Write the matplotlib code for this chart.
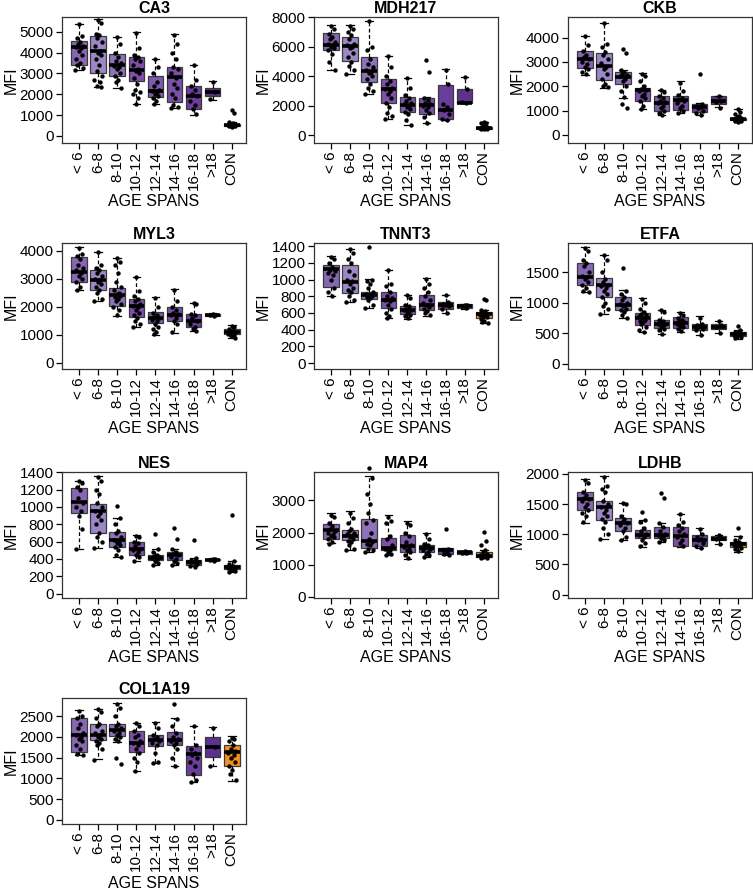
"""Grid of MFI boxplots per age span for ten markers."""

import matplotlib
matplotlib.use("Agg")
import matplotlib.pyplot as plt
import numpy as np

plt.rcParams["font.family"] = ["Liberation Sans", "DejaVu Sans"]

GROUPS = ["< 6", "6-8", "8-10", "10-12", "12-14", "14-16", "16-18", ">18", "CON"]
COLORS = ["#8767b4", "#9d87c6", "#8d71b9", "#7e50a9", "#7d5bab",
          "#7a50a7", "#6b3d9c", "#5e3090", "#f5901e"]

# box stats per group: (whisker low, q1, median, q3, whisker high)
CA3_BOX = [(3145, 3420, 4275, 4550, 5390), (2340, 3015, 4100, 4820, 5600),
           (2290, 2855, 3390, 3935, 4760), (1530, 2660, 3180, 3775, 5000),
           (1530, 1890, 2180, 2855, 3710), (1320, 1610, 2820, 3290, 4900),
           (1000, 1290, 1935, 2400, 3420), (1725, 1920, 2130, 2320, 2660),
           (450, 470, 515, 595, 680)]
CA3_PTS = [[5350, 4800, 4700, 4500, 4400, 4300, 4250, 4200, 4100, 3900, 3700, 3500, 3400, 3250, 3150],
           [5550, 5400, 4900, 4850, 4700, 4500, 4300, 4100, 4000, 3900, 3700, 3400, 3100, 2900, 2700, 2600, 2400, 2330],
           [4750, 4400, 4000, 3800, 3600, 3500, 3350, 3300, 3200, 3000, 2900, 2700, 2600, 2300],
           [4950, 4200, 3900, 3800, 3700, 3600, 3400, 3200, 3100, 3000, 2800, 2500, 2200, 2100, 2000, 1800, 1550],
           [3700, 3300, 3000, 2600, 2400, 2200, 2150, 2100, 2000, 1900, 1800, 1700, 1550],
           [4850, 4400, 4000, 3700, 3300, 3200, 3000, 2800, 2500, 2300, 2000, 1800, 1500, 1400, 1350],
           [3400, 2700, 2400, 2200, 2000, 1900, 1700, 1500, 1300, 1050],
           [2600, 2100, 1750],
           [1250, 1100, 650, 600, 560, 540, 520, 510, 500, 480, 470, 450]]
CA3_TICKS = [0, 1000, 2000, 3000, 4000, 5000]

MDH217_BOX = [(4420, 5770, 6150, 6940, 7460), (4125, 5025, 6040, 6670, 7460),
              (2770, 3605, 4350, 5320, 7775), (1080, 2165, 3110, 3785, 5365),
              (700, 1580, 2050, 2590, 3855), (810, 1465, 2030, 2545, 2600),
              (1035, 1125, 1715, 3380, 4460), (2165, 2165, 2210, 3155, 3965),
              (380, 420, 470, 540, 900)]
MDH217_PTS = [[7400, 7200, 6900, 6700, 6500, 6300, 6200, 6100, 6000, 5900, 5800, 5500, 5000, 4400],
              [7400, 7200, 7000, 6800, 6500, 6200, 6100, 6000, 5900, 5600, 5300, 5000, 4700, 4400, 4150],
              [7750, 6000, 5800, 5200, 4800, 4600, 4400, 4300, 4200, 4000, 3800, 3500, 3200, 3000, 2800],
              [5350, 4600, 4000, 3700, 3500, 3200, 3100, 3000, 2800, 2500, 2200, 1900, 1500, 1300, 1100],
              [3850, 3200, 2700, 2500, 2300, 2200, 2100, 2000, 1900, 1800, 1600, 1400, 1000, 700],
              [5100, 4300, 2550, 2400, 2200, 2100, 2000, 1900, 1700, 1500, 1200, 800],
              [4450, 3500, 2100, 1900, 1700, 1400, 1100, 1050],
              [3950, 3100, 2250, 2200],
              [900, 850, 800, 700, 600, 550, 500, 480, 460, 440, 420, 400]]
MDH217_TICKS = [0, 2000, 4000, 6000, 8000]

CKB_BOX = [(2475, 2745, 3130, 3440, 4080), (1940, 2260, 2840, 3345, 4615),
           (1525, 2100, 2395, 2595, 2665), (1070, 1405, 1860, 1925, 2530),
           (830, 990, 1325, 1605, 1860), (895, 1030, 1430, 1605, 2195),
           (830, 935, 1125, 1270, 1290), (1125, 1270, 1390, 1605, 1605),
           (540, 610, 660, 710, 1050)]
CKB_PTS = [[4050, 3700, 3450, 3300, 3200, 3100, 3000, 2900, 2800, 2700, 2600, 2500],
           [4600, 3750, 3600, 3400, 3300, 3100, 2950, 2800, 2700, 2500, 2300, 2100, 2000, 1950],
           [3550, 3350, 2650, 2600, 2500, 2450, 2400, 2300, 2200, 2000, 1800, 1550, 1250, 1100],
           [2500, 2400, 2200, 2000, 1900, 1850, 1800, 1700, 1600, 1500, 1400, 1200, 1080],
           [1850, 1750, 1600, 1500, 1400, 1350, 1300, 1200, 1100, 1000, 900, 830],
           [2150, 1800, 1650, 1500, 1450, 1400, 1300, 1200, 1100, 1000, 900],
           [2500, 1250, 1200, 1150, 1100, 1000, 900, 830],
           [1600, 1400, 1350, 1100],
           [1050, 950, 850, 780, 720, 680, 650, 630, 600, 580, 560, 540]]
CKB_TICKS = [0, 1000, 2000, 3000, 4000]

MYL3_BOX = [(2590, 2890, 3255, 3770, 4135), (2195, 2590, 2950, 3315, 3950),
            (1665, 2025, 2410, 2675, 3760), (1290, 1625, 2025, 2290, 3075),
            (1000, 1410, 1605, 1810, 2350), (1085, 1505, 1710, 1990, 2625),
            (1145, 1290, 1505, 1745, 2145), (1665, 1685, 1710, 1745, 1770),
            (880, 1025, 1120, 1205, 1350)]
MYL3_PTS = [[4100, 3900, 3800, 3700, 3500, 3400, 3300, 3200, 3100, 3000, 2900, 2700, 2600],
            [3950, 3500, 3400, 3300, 3200, 3100, 3000, 2950, 2900, 2800, 2700, 2600, 2500, 2300, 2200],
            [3750, 3600, 3500, 3200, 2900, 2700, 2600, 2500, 2450, 2400, 2350, 2300, 2200, 2100, 2000, 1900, 1700],
            [3050, 2550, 2400, 2300, 2200, 2100, 2050, 2000, 1900, 1800, 1700, 1600, 1500, 1400, 1300],
            [2330, 2000, 1800, 1700, 1650, 1600, 1550, 1500, 1400, 1300, 1200, 1100, 1020],
            [2600, 2200, 2000, 1900, 1800, 1750, 1700, 1600, 1500, 1400, 1100],
            [2150, 2100, 1750, 1700, 1600, 1500, 1400, 1300, 1200, 1150],
            [1760, 1720, 1700, 1680],
            [1330, 1280, 1200, 1150, 1120, 1100, 1050, 1000, 950, 900]]
MYL3_TICKS = [0, 1000, 2000, 3000, 4000]

TNNT3_BOX = [(798, 912, 1123, 1176, 1278), (729, 838, 973, 1176, 1368),
             (663, 769, 818, 851, 1001), (545, 655, 757, 847, 1111),
             (533, 586, 635, 684, 818), (562, 635, 696, 818, 1022),
             (594, 643, 696, 729, 818), (647, 655, 684, 704, 712),
             (475, 541, 586, 606, 640)]
TNNT3_PTS = [[1270, 1250, 1200, 1150, 1120, 1100, 1080, 1050, 1000, 900, 850, 800],
             [1360, 1320, 1250, 1200, 1100, 1050, 1000, 980, 950, 900, 870, 850, 800, 760, 730],
             [1390, 1000, 980, 950, 900, 850, 830, 820, 810, 800, 790, 780, 760, 700, 660],
             [1110, 950, 920, 850, 800, 780, 760, 740, 700, 650, 600, 560, 545],
             [820, 780, 700, 680, 650, 640, 630, 620, 600, 580, 560, 540],
             [1010, 950, 900, 850, 800, 750, 720, 700, 690, 670, 650, 620, 600, 570],
             [810, 730, 710, 700, 690, 680, 650, 600],
             [700, 690, 680, 660],
             [770, 750, 640, 620, 600, 590, 580, 570, 560, 550, 530, 510, 490, 475]]
TNNT3_TICKS = [0, 200, 400, 600, 800, 1000, 1200, 1400]

ETFA_BOX = [(1178, 1289, 1433, 1656, 1917), (822, 1094, 1294, 1406, 1789),
            (750, 889, 972, 1100, 1211), (528, 639, 750, 833, 1083),
            (483, 594, 656, 722, 889), (528, 594, 667, 767, 850),
            (472, 556, 611, 656, 778), (500, 567, 611, 656, 706),
            (417, 461, 490, 517, 560)]
ETFA_PTS = [[1900, 1850, 1700, 1650, 1600, 1500, 1450, 1420, 1400, 1350, 1300, 1250, 1200, 1180],
            [1780, 1700, 1500, 1400, 1350, 1300, 1280, 1250, 1200, 1150, 1100, 1000, 950, 900, 820],
            [1580, 1200, 1150, 1100, 1050, 1000, 980, 960, 950, 900, 880, 850, 800, 760],
            [1070, 1000, 900, 850, 820, 800, 780, 760, 750, 720, 700, 680, 650, 600, 550, 530],
            [880, 850, 720, 700, 680, 660, 650, 630, 600, 580, 550, 490],
            [840, 800, 750, 720, 700, 680, 660, 640, 620, 600, 580, 540],
            [760, 660, 640, 620, 600, 580, 560, 480],
            [700, 640, 600, 500],
            [630, 560, 520, 510, 500, 490, 480, 470, 460, 440, 420]]
ETFA_TICKS = [0, 500, 1000, 1500]

NES_BOX = [(520, 931, 1056, 1224, 1302), (528, 696, 950, 1036, 1357),
           (422, 536, 618, 716, 872), (371, 450, 520, 594, 676),
           (325, 383, 411, 450, 520), (325, 383, 442, 477, 520),
           (313, 325, 364, 391, 411), (379, 383, 391, 405, 411),
           (250, 285, 310, 330, 380)]
NES_PTS = [[1300, 1280, 1230, 1200, 1100, 1050, 1000, 950, 900, 750, 510],
           [1350, 1300, 1200, 1150, 1050, 1000, 950, 930, 900, 850, 800, 700, 650, 600, 530],
           [1010, 870, 800, 720, 700, 650, 620, 600, 580, 560, 540, 500, 450, 420],
           [670, 650, 600, 580, 550, 520, 500, 480, 450, 420, 380],
           [690, 520, 480, 450, 430, 420, 410, 400, 380, 350, 330],
           [760, 630, 510, 480, 460, 440, 420, 400, 380, 350, 330],
           [620, 410, 390, 370, 360, 340, 320, 310],
           [405, 395, 390, 380],
           [910, 380, 340, 320, 310, 300, 290, 280, 270, 260, 250]]
NES_TICKS = [0, 200, 400, 600, 800, 1000, 1200, 1400]

MAP4_BOX = [(1670, 1798, 2075, 2277, 2596), (1458, 1777, 1883, 2096, 2660),
            (1405, 1511, 1724, 2415, 3745), (1298, 1458, 1511, 1830, 2554),
            (1192, 1405, 1585, 1936, 2362), (1245, 1405, 1511, 1617, 1990),
            (1298, 1351, 1458, 1532, 1532), (1351, 1351, 1404, 1436, 1436),
            (1200, 1240, 1260, 1400, 1450)]
MAP4_PTS = [[2550, 2500, 2300, 2200, 2100, 2050, 2000, 1950, 1900, 1850, 1800, 1700, 1650],
            [2600, 2450, 2300, 2100, 2050, 2000, 1950, 1900, 1850, 1800, 1750, 1700, 1600, 1500, 1450],
            [4000, 3700, 3200, 2900, 2600, 2400, 2300, 2000, 1800, 1700, 1650, 1600, 1500, 1450, 1400],
            [2500, 2350, 2300, 1900, 1800, 1600, 1500, 1450, 1400, 1350, 1300],
            [2300, 2250, 2000, 1900, 1700, 1600, 1550, 1500, 1450, 1400, 1300, 1200],
            [1950, 1800, 1650, 1600, 1550, 1500, 1450, 1400, 1350, 1300, 1250],
            [2100, 1500, 1450, 1400, 1350, 1300],
            [1420, 1400, 1380, 1360],
            [2020, 1750, 1600, 1450, 1400, 1350, 1300, 1280, 1250, 1220, 1200]]
MAP4_TICKS = [0, 1000, 2000, 3000]

LDHB_BOX = [(1193, 1403, 1590, 1693, 1914), (920, 1238, 1448, 1551, 1971),
            (897, 1051, 1193, 1278, 1517), (795, 937, 994, 1068, 1233),
            (869, 937, 994, 1119, 1193), (795, 812, 977, 1125, 1335),
            (767, 812, 909, 994, 1096), (835, 897, 926, 966, 994),
            (710, 795, 835, 869, 966)]
LDHB_PTS = [[1900, 1850, 1700, 1650, 1600, 1580, 1550, 1500, 1450, 1400, 1350, 1300, 1200],
            [1950, 1800, 1750, 1700, 1550, 1500, 1450, 1400, 1350, 1300, 1250, 1200, 1100, 1000, 920],
            [1520, 1500, 1300, 1250, 1200, 1180, 1150, 1100, 1050, 950, 900],
            [1370, 1230, 1200, 1100, 1050, 1000, 980, 950, 900, 850, 800],
            [1680, 1610, 1180, 1120, 1050, 1000, 980, 960, 940, 900, 870],
            [1330, 1200, 1150, 1100, 1050, 1000, 950, 900, 850, 800],
            [1090, 1000, 950, 920, 900, 850, 800, 770],
            [990, 940, 920, 840],
            [1100, 960, 900, 870, 850, 840, 830, 820, 800, 780, 750, 720]]
LDHB_TICKS = [0, 500, 1000, 1500, 2000]

COL1A19_BOX = [(1560, 1642, 2051, 2451, 2639), (1454, 1928, 2043, 2296, 2680),
               (1863, 2010, 2173, 2312, 2819), (1168, 1642, 1846, 2132, 2337),
               (1373, 1781, 1928, 2051, 2353), (1291, 1797, 1928, 2108, 2459),
               (923, 1087, 1577, 1781, 2271), (1307, 1511, 1757, 1985, 2230),
               (948, 1307, 1642, 1806, 2010)]
COL1A19_PTS = [[2620, 2500, 2450, 2300, 2200, 2100, 2050, 2000, 1950, 1900, 1800, 1700, 1580, 1560],
               [2670, 2600, 2450, 2300, 2250, 2150, 2100, 2050, 2000, 1950, 1900, 1850, 1800, 1700, 1450],
               [2800, 2700, 2500, 2300, 2250, 2200, 2150, 2100, 2050, 2000, 1950, 1900, 1500, 1350],
               [2320, 2250, 2150, 2050, 2000, 1900, 1850, 1800, 1700, 1600, 1500, 1400, 1170],
               [2330, 2200, 2050, 2000, 1950, 1900, 1850, 1800, 1600, 1400, 1380],
               [2780, 2430, 2250, 2100, 2000, 1950, 1900, 1850, 1800, 1700, 1500, 1290],
               [2260, 1800, 1700, 1600, 1550, 1500, 1400, 1300, 1100, 950, 920],
               [2200, 1750, 1300],
               [1980, 1950, 1900, 1800, 1700, 1650, 1600, 1550, 1500, 1400, 1300, 1200, 1100, 950]]
COL1A19_TICKS = [0, 500, 1000, 1500, 2000, 2500]

PANELS = [("CA3", CA3_BOX, CA3_PTS, CA3_TICKS),
          ("MDH217", MDH217_BOX, MDH217_PTS, MDH217_TICKS),
          ("CKB", CKB_BOX, CKB_PTS, CKB_TICKS),
          ("MYL3", MYL3_BOX, MYL3_PTS, MYL3_TICKS),
          ("TNNT3", TNNT3_BOX, TNNT3_PTS, TNNT3_TICKS),
          ("ETFA", ETFA_BOX, ETFA_PTS, ETFA_TICKS),
          ("NES", NES_BOX, NES_PTS, NES_TICKS),
          ("MAP4", MAP4_BOX, MAP4_PTS, MAP4_TICKS),
          ("LDHB", LDHB_BOX, LDHB_PTS, LDHB_TICKS),
          ("COL1A19", COL1A19_BOX, COL1A19_PTS, COL1A19_TICKS)]

# layout (pixels of a 753x894 canvas) and y ranges
W, H = 753, 894
COL_LEFT = [62, 314, 568]
ROW_TOP = [17, 243, 472, 698]
AX_W, AX_H = 184, 126
YLIMS = {"CA3": (-340, 5710), "MDH217": (-540, 8030), "CKB": (-335, 4845),
         "MYL3": (-215, 4280), "TNNT3": (-70, 1437), "ETFA": (-83, 1983),
         "NES": (-51, 1404), "MAP4": (-32, 3884), "LDHB": (-57, 2033),
         "COL1A19": (-98, 2933)}
JITTER = np.array([0.0, 0.13, -0.12, 0.06, -0.06, 0.18, -0.17, 0.1,
                   -0.02, 0.15, -0.14, 0.03, -0.09, 0.2, -0.2, 0.08, -0.04, 0.12])

fig = plt.figure(figsize=(W / 100, H / 100), dpi=100)
for k, (name, box, pts, ticks) in enumerate(PANELS):
    r, c = divmod(k, 3)
    ax = fig.add_axes([COL_LEFT[c] / W, 1 - (ROW_TOP[r] + AX_H) / H, AX_W / W, AX_H / H])
    stats = [dict(whislo=b[0], q1=b[1], med=b[2], q3=b[3], whishi=b[4]) for b in box]
    bp = ax.bxp(stats, positions=range(1, 10), widths=0.82, patch_artist=True,
                showfliers=False, capwidths=0.4,
                boxprops=dict(edgecolor="#3a3a3a", linewidth=0.9),
                medianprops=dict(color="black", linewidth=2.6, solid_capstyle="butt"),
                whiskerprops=dict(color="black", linewidth=0.9, linestyle=(0, (3, 2))),
                capprops=dict(color="black", linewidth=0.9))
    for patch, col in zip(bp["boxes"], COLORS):
        patch.set_facecolor(col)
    for i, vals in enumerate(pts):
        xs = i + 1 + JITTER[:len(vals)]
        ax.scatter(xs, vals, s=10, color="black", linewidths=0, zorder=4, clip_on=False)

    ax.set_xlim(0.1, 9.75)
    ax.set_ylim(*YLIMS[name])
    ax.set_yticks(ticks)
    ax.set_xticks(range(1, 10))
    ax.set_xticklabels(GROUPS, rotation=90)
    ax.tick_params(direction="out", length=4, width=0.9, labelsize=11, pad=2)
    for sp in ax.spines.values():
        sp.set_linewidth(0.9)
        sp.set_color("#333333")
    ax.set_title(name, fontsize=11.5, fontweight="bold", pad=3)
    ax.set_ylabel("MFI", fontsize=11.5, labelpad=1)
    ax.set_xlabel("AGE SPANS", fontsize=11.5, labelpad=3)

fig.savefig("out.png", dpi=100)
